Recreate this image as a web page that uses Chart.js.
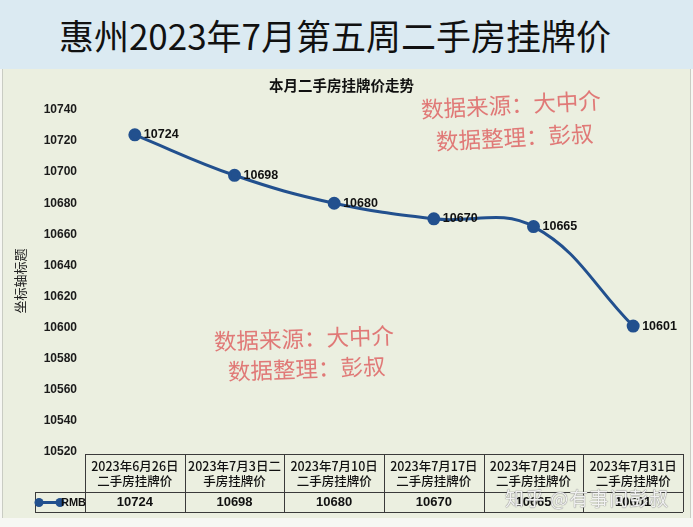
<!DOCTYPE html>
<html>
<head>
<meta charset="utf-8">
<script src="https://cdn.jsdelivr.net/npm/chart.js@4"></script>
<style>
  html, body { margin: 0; padding: 0; }
  body { width: 693px; height: 527px; position: relative; overflow: hidden; background: #f6f7f3; font-family: "Noto Sans CJK SC", sans-serif; }
  #banner { position: absolute; left: 0; top: 0; width: 693px; height: 69px; background: #dbeaf2; }
  #banner span { position: absolute; left: 0; width: 670px; top: 13px; text-align: center; font-size: 35px; line-height: 44px; color: #111; font-weight: 400; }
  #panel { position: absolute; left: 2px; top: 69px; width: 687px; height: 449px; background: #ebefe0; border-left: 1px solid #c9ccc3; border-right: 1px solid #c9ccc3; }
  #wrap { position: absolute; left: 0; top: 69px; width: 693px; height: 458px; }
  .wm { position: absolute; color: rgba(222, 100, 100, 0.85); font-size: 22.5px; line-height: 30px; transform-origin: left center; white-space: nowrap; }
  #zh { position: absolute; left: 505px; top: 484px; font-size: 19px; color: rgba(255,255,255,0.9); text-shadow: 0 0 1px #777, 0 0 1px #777; white-space: nowrap; letter-spacing: 1px; }
</style>
</head>
<body>
<div id="banner"><span>惠州2023年7月第五周二手房挂牌价</span></div>
<div id="panel"></div>
<div id="wrap"><canvas id="c" width="693" height="458"></canvas></div>
<div class="wm" style="left:421px; top:93px; transform: rotate(-3deg);">数据来源：大中介</div>
<div class="wm" style="left:436px; top:125px; transform: rotate(-3deg);">数据整理：彭叔</div>
<div class="wm" style="left:214px; top:325px; transform: rotate(-2deg);">数据来源：大中介</div>
<div class="wm" style="left:228px; top:355px; transform: rotate(-2deg);">数据整理：彭叔</div>
<div id="zh">知乎 @有事问彭叔</div>
<script>
const categories = [
  ["2023年6月26日", "二手房挂牌价"],
  ["2023年7月3日二", "手房挂牌价"],
  ["2023年7月10日", "二手房挂牌价"],
  ["2023年7月17日", "二手房挂牌价"],
  ["2023年7月24日", "二手房挂牌价"],
  ["2023年7月31日", "二手房挂牌价"]
];
const seriesName = "RMB";
const rmbValues = [10724, 10698, 10680, 10670, 10665, 10601];
const yMin = 10520;
const yMax = 10740;
const yStep = 20;
const chartTitle = "本月二手房挂牌价走势";
const yAxisTitle = "坐标轴标题";

const lineColor = "#22508e";

const labelPlugin = {
  id: "pointLabels",
  afterDatasetsDraw(chart) {
    const ctx = chart.ctx;
    const meta = chart.getDatasetMeta(0);
    ctx.save();
    ctx.font = "bold 12.5px 'Liberation Sans', Arial, sans-serif";
    ctx.fillStyle = "#111";
    ctx.textAlign = "left";
    ctx.textBaseline = "middle";
    meta.data.forEach((pt, i) => {
      ctx.fillText(String(chart.data.datasets[0].data[i]), pt.x + 9, pt.y);
    });
    ctx.restore();
  }
};

const tablePlugin = {
  id: "dataTable",
  afterDraw(chart) {
    const ctx = chart.ctx;
    const xs = chart.scales.x;
    const area = chart.chartArea;
    const n = chart.data.labels.length;
    const colW = (area.right - area.left) / n;
    const top = area.bottom + 2;
    const mid = top + 38;
    const bot = mid + 20;
    const legendLeft = 35;
    ctx.save();
    ctx.strokeStyle = "#3a3a3a";
    ctx.lineWidth = 1;
    ctx.beginPath();
    ctx.moveTo(area.left, top + 0.5); ctx.lineTo(area.right, top + 0.5);
    ctx.moveTo(legendLeft, mid + 0.5); ctx.lineTo(area.right, mid + 0.5);
    ctx.moveTo(legendLeft, bot + 0.5); ctx.lineTo(area.right, bot + 0.5);
    ctx.moveTo(legendLeft + 0.5, mid); ctx.lineTo(legendLeft + 0.5, bot);
    for (let i = 0; i <= n; i++) {
      const x = Math.round(area.left + i * colW) + 0.5;
      ctx.moveTo(x, top); ctx.lineTo(x, bot);
    }
    ctx.stroke();

    ctx.fillStyle = "#111";
    ctx.textAlign = "center";
    ctx.textBaseline = "middle";
    chart.data.labels.forEach((lab, i) => {
      const cx = xs.getPixelForValue(i);
      ctx.font = "500 12.5px 'Noto Sans CJK SC', sans-serif";
      const lines = Array.isArray(lab) ? lab : [lab];
      lines.forEach((t, k) => {
        ctx.fillText(t, cx, top + 12 + k * 15);
      });
      ctx.font = "bold 13px 'Liberation Sans', Arial, sans-serif";
      ctx.fillText(String(chart.data.datasets[0].data[i]), cx, mid + 10.5);
    });

    const ly = mid + 10.5;
    ctx.strokeStyle = lineColor;
    ctx.lineWidth = 3;
    ctx.beginPath();
    ctx.moveTo(39, ly); ctx.lineTo(60, ly);
    ctx.stroke();
    ctx.fillStyle = lineColor;
    [39, 60].forEach(px => {
      ctx.beginPath(); ctx.arc(px, ly, 4.5, 0, Math.PI * 2); ctx.fill();
    });
    ctx.fillStyle = "#111";
    ctx.textAlign = "left";
    ctx.font = "bold 11px 'Liberation Sans Narrow', 'Liberation Sans', Arial, sans-serif";
    ctx.fillText(seriesName, 61, ly);
    ctx.restore();
  }
};

new Chart(document.getElementById("c"), {
  type: "line",
  data: {
    labels: categories,
    datasets: [{
      label: seriesName,
      data: rmbValues,
      borderColor: lineColor,
      backgroundColor: lineColor,
      borderWidth: 3,
      tension: 0.4,
      pointRadius: 5,
      pointBackgroundColor: lineColor,
      pointBorderColor: lineColor,
      fill: false
    }]
  },
  options: {
    responsive: false,
    animation: false,
    events: [],
    layout: { padding: { left: 0, right: 10, top: 0, bottom: 75 } },
    plugins: {
      legend: { display: false },
      tooltip: { enabled: false },
      title: {
        display: true,
        text: chartTitle,
        color: "#111",
        font: { size: 14.5, weight: "bold", family: "'Noto Sans CJK SC', sans-serif", lineHeight: 1.2 },
        padding: { top: 8, bottom: 15.6 }
      }
    },
    scales: {
      x: {
        display: false,
        offset: true
      },
      y: {
        min: yMin,
        max: yMax,
        afterFit(s) { s.width = 85; },
        grid: { display: false, drawTicks: false },
        border: { display: false },
        ticks: {
          stepSize: yStep,
          padding: 8,
          color: "#1a1a1a",
          font: { size: 12, weight: "bold", family: "'Liberation Sans', Arial, sans-serif" },
          callback: (v) => String(v)
        },
        title: {
          display: true,
          text: yAxisTitle,
          color: "#222",
          font: { size: 13, family: "'Noto Sans CJK SC', sans-serif" },
          padding: { top: 12, bottom: 0 }
        }
      }
    }
  },
  plugins: [labelPlugin, tablePlugin]
});
</script>
</body>
</html>
